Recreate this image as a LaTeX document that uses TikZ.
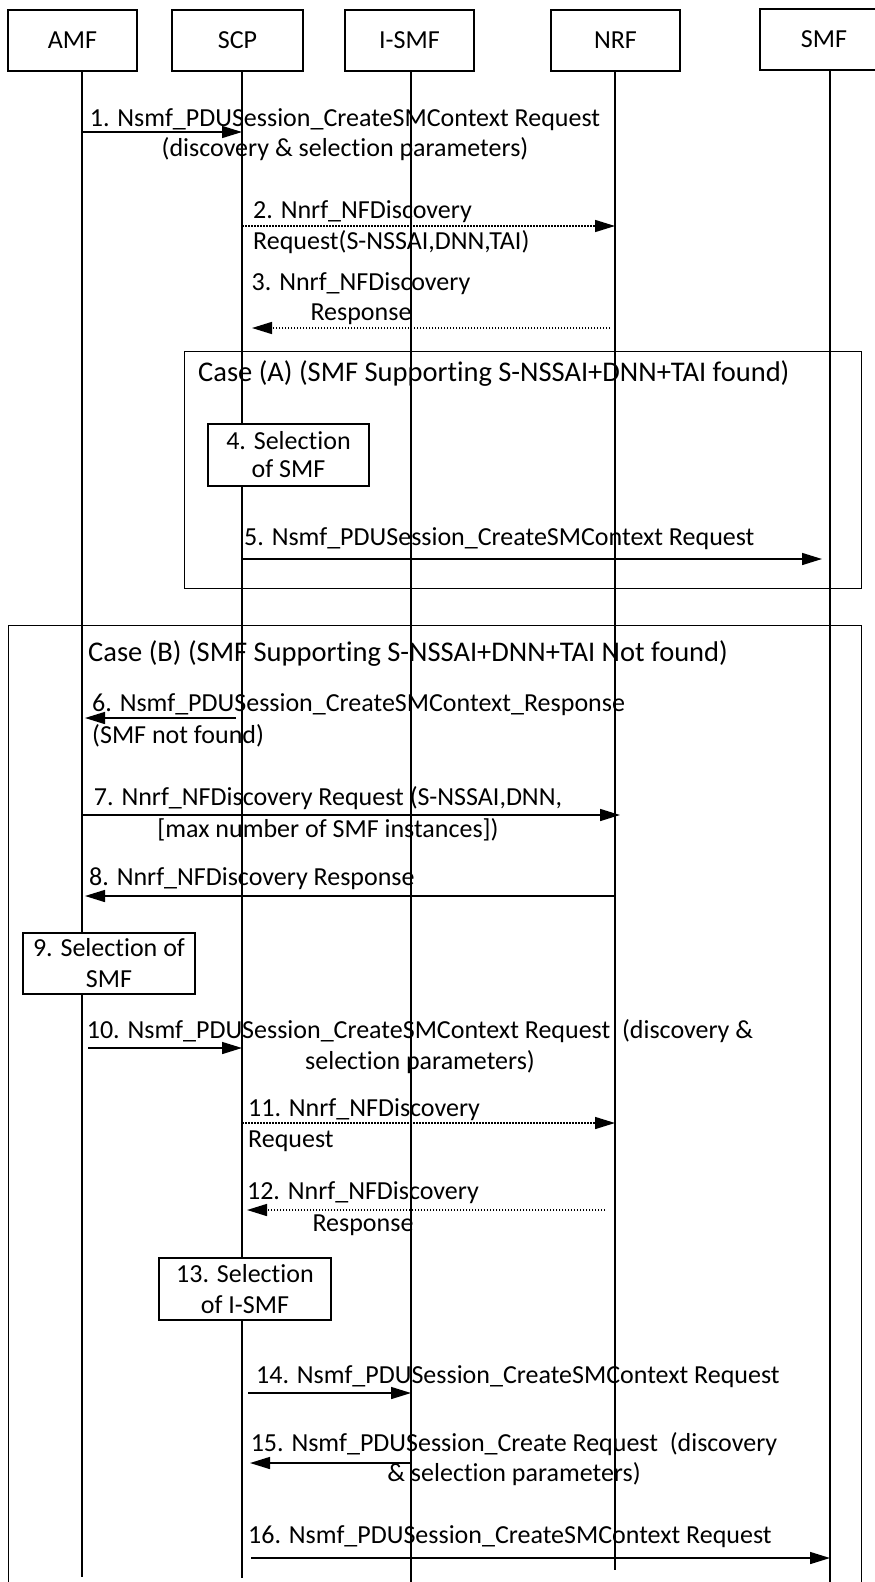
\documentclass[tikz,border=0pt]{standalone}
\usepackage{fontspec}
\setmainfont[Ligatures=NoCommon]{Carlito}
\usetikzlibrary{arrows.meta,calc}
\begin{document}
\begin{tikzpicture}[x=1pt,y=-1pt,
  every node/.style={font=\fontsize{26}{31}\selectfont, inner sep=0pt},
  hdr/.style={draw, line width=1.4pt, minimum width=129pt, minimum height=61pt},
  selbox/.style={draw, fill=white, line width=1.4pt, align=center},
  frm/.style={draw, line width=1.4pt, anchor=north west},
  life/.style={line width=1.2pt},
  msg/.style={line width=1.5pt, -{Triangle[length=20pt,width=12pt]}},
  dmsg/.style={msg, dash pattern=on 1.5pt off 1.5pt},
  lbl/.style={anchor=base},
  lbll/.style={anchor=base west},
  caselbl/.style={anchor=base west, font=\fontsize{28.5}{34}\selectfont}]
\useasboundingbox (0,0) rectangle (875,1582);

% headers
\node[hdr] (amf) at (72.5,40.5) {AMF};
\node[hdr, minimum width=131pt] (scp) at (237.5,40.5) {SCP};
\node[hdr] (ismf) at (409.5,40.5) {I-SMF};
\node[hdr] (nrf) at (615.5,40.5) {NRF};
\node[hdr, minimum width=128pt] (smf) at (824,39.5) {SMF};

% lifeline ends
\coordinate (amfT) at (82,71);   \coordinate (amfB) at (82,1577);
\coordinate (scpT) at (242,71);  \coordinate (scpB) at (242,1578);
\coordinate (ismfT) at (411,71); \coordinate (ismfB) at (411,1582);
\coordinate (nrfT) at (615,71);  \coordinate (nrfB) at (615,1570);
\coordinate (smfT) at (830,70);  \coordinate (smfB) at (830,1582);

% frames
\node[frm, minimum width=677pt, minimum height=237pt] (caseA) at (184,351) {};
\node[frm, minimum width=853pt, minimum height=1000pt] (caseB) at (8,625) {};

% lifelines
\draw[life] (amfT) -- (amfB);
\draw[life] (scpT) -- (scpB);
\draw[life] (ismfT) -- (ismfB);
\draw[life] (nrfT) -- (nrfB);
\draw[life] (smfT) -- (smfB);

% rows
\coordinate (r1) at (0,132);
\coordinate (r2) at (0,226);
\coordinate (r3) at (0,328);
\coordinate (r5) at (0,559);
\coordinate (r6) at (0,718);
\coordinate (r7) at (0,815);
\coordinate (r8) at (0,896);
\coordinate (r10) at (0,1048);
\coordinate (r11) at (0,1123);
\coordinate (r12) at (0,1210);
\coordinate (r14) at (0,1393);
\coordinate (r15) at (0,1463);
\coordinate (r16) at (0,1558);

% messages
\draw[msg] (amfT |- r1) -- (scpT |- r1);
\draw[dmsg] (scpT |- r2) -- (nrfT |- r2);
\draw[dmsg] ($(nrfT |- r3)+(-5,0)$) -- ($(scpT |- r3)+(10,0)$);
\draw[msg] (scpT |- r5) -- ($(smfT |- r5)+(-8,0)$);
\draw[msg] ($(scpT |- r6)+(-6,0)$) -- ($(amfT |- r6)+(3,0)$);
\draw[msg] (amfT |- r7) -- ($(nrfT |- r7)+(5,0)$);
\draw[msg] (nrfT |- r8) -- ($(amfT |- r8)+(3,0)$);
\draw[msg] ($(amfT |- r10)+(6,0)$) -- (scpT |- r10);
\draw[dmsg] (scpT |- r11) -- (nrfT |- r11);
\draw[dmsg] ($(nrfT |- r12)+(-10,0)$) -- ($(scpT |- r12)+(5,0)$);
\draw[msg] ($(scpT |- r14)+(6,0)$) -- (ismfT |- r14);
\draw[msg] (ismfT |- r15) -- ($(scpT |- r15)+(8,0)$);
\draw[msg] ($(scpT |- r16)+(9,0)$) -- (smfT |- r16);

% selection boxes
\node[selbox, minimum width=161pt, minimum height=62pt, font=\fontsize{26}{28}\selectfont] (sel4) at (288.5,455) {4. Selection\\of SMF};
\node[selbox, minimum width=172pt, minimum height=61pt, font=\fontsize{26}{31}\selectfont] (sel9) at (109,963.5) {9. Selection of\\SMF};
\node[selbox, minimum width=172pt, minimum height=62pt, font=\fontsize{26}{31}\selectfont] (sel13) at (245,1289) {13. Selection\\of I-SMF};

% labels
\node[lbl] (t1a) at (345,126) {1. Nsmf\_PDUSession\_CreateSMContext Request};
\node[lbl] (t1b) at (345,156) {(discovery \& selection parameters)};
\node[lbll] (t2a) at (253,218) {2. Nnrf\_NFDiscovery};
\node[lbll] (t2b) at (253,249) {Request(S-NSSAI,DNN,TAI)};
\node[lbl] (t3a) at (361,290) {3. Nnrf\_NFDiscovery};
\node[lbl] (t3b) at (361,320) {Response};
\node[caselbl] (tA) at (198,381) {Case (A) (SMF Supporting S-NSSAI+DNN+TAI found)};
\node[lbll] (t5) at (244,545) {5. Nsmf\_PDUSession\_CreateSMContext Request};
\node[caselbl] (tB) at (88,661) {Case (B) (SMF Supporting S-NSSAI+DNN+TAI Not found)};
\node[lbll] (t6a) at (92,711) {6. Nsmf\_PDUSession\_CreateSMContext\_Response};
\node[lbll] (t6b) at (92,743) {(SMF not found)};
\node[lbl] (t7a) at (328,805) {7. Nnrf\_NFDiscovery Request (S-NSSAI,DNN,};
\node[lbl] (t7b) at (328,837) {[max number of SMF instances])};
\node[lbll] (t8) at (89,885) {8. Nnrf\_NFDiscovery Response};
\node[lbl] (t10a) at (420,1038) {10. Nsmf\_PDUSession\_CreateSMContext Request\ \ (discovery \&};
\node[lbl] (t10b) at (420,1069) {selection parameters)};
\node[lbll] (t11a) at (248,1116) {11. Nnrf\_NFDiscovery};
\node[lbll] (t11b) at (248,1147) {Request};
\node[lbl] (t12a) at (363,1199) {12. Nnrf\_NFDiscovery};
\node[lbl] (t12b) at (363,1231) {Response};
\node[lbll] (t14) at (256,1383) {14. Nsmf\_PDUSession\_CreateSMContext Request};
\node[lbl] (t15a) at (514,1451) {15. Nsmf\_PDUSession\_Create Request\ \ (discovery};
\node[lbl] (t15b) at (514,1481) {\& selection parameters)};
\node[lbll] (t16) at (248,1543) {16. Nsmf\_PDUSession\_CreateSMContext Request};
\end{tikzpicture}
\end{document}
